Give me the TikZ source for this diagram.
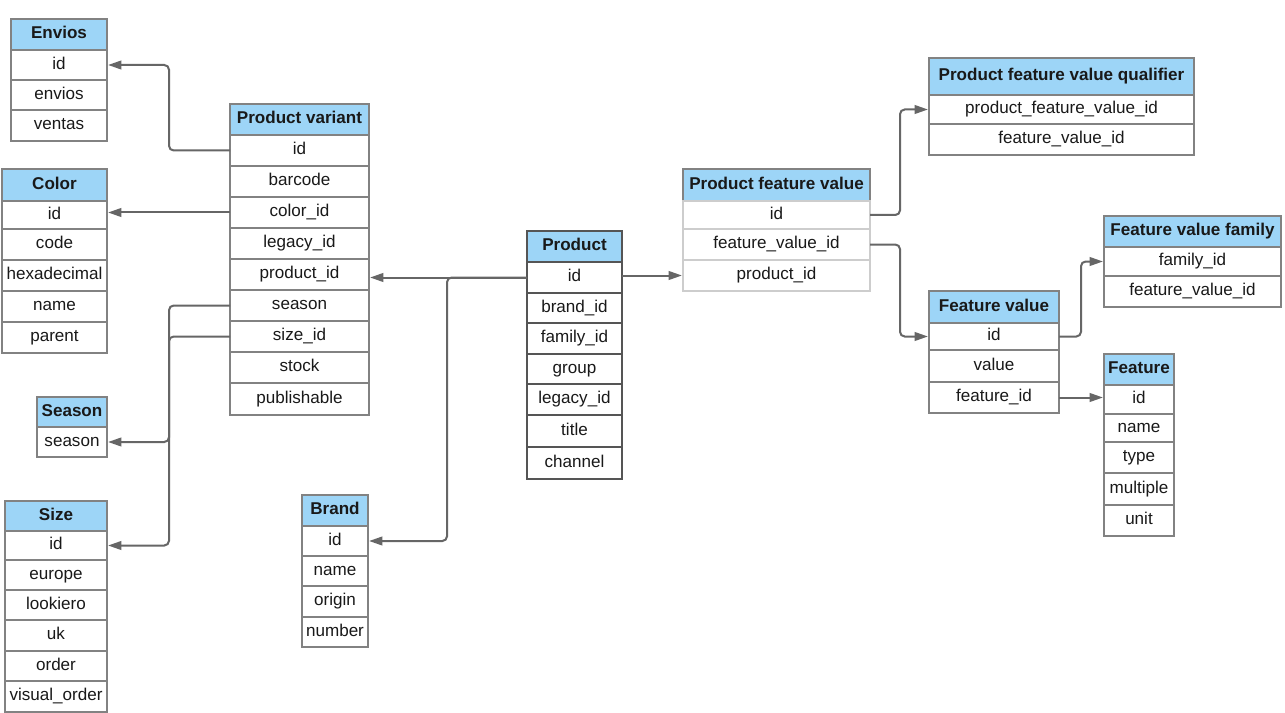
\documentclass[tikz,border=0pt]{standalone}
\usepackage{fontspec}
\setmainfont{Liberation Sans}
\usetikzlibrary{arrows.meta}
\definecolor{hdrblue}{RGB}{157,213,247}
\definecolor{bordergray}{RGB}{130,130,130}
\definecolor{lightgray}{RGB}{205,205,205}
\definecolor{conngray}{RGB}{102,102,102}
\definecolor{prdgray}{RGB}{85,85,85}
\definecolor{txt}{RGB}{25,25,25}
\newcommand\tcell[7]{\node[#2, minimum width={(#4-#3)*0.75pt}, minimum height={(#6-#5)*0.75pt}, anchor=north west] (#1) at (#3,#5) {#7};}
\begin{document}
\begin{tikzpicture}[x=0.75pt,y=-0.75pt,
  cellbase/.style={rectangle, inner sep=0pt, outer sep=0pt, text=txt, text height=9.2pt, text depth=2.6pt, font=\fontsize{12.8}{15}\selectfont},
  hdr/.style={cellbase, draw=bordergray, line width=0.8pt, fill=hdrblue, font=\fontsize{12.8}{15}\selectfont\bfseries},
  row/.style={cellbase, draw=bordergray, line width=0.8pt, fill=white},
  hdrthick/.style={hdr, draw=prdgray, line width=1.8pt},
  rowthick/.style={row, draw=prdgray, line width=1.8pt},
  rowlight/.style={row, draw=lightgray},
  conn/.style={draw=conngray, line width=1.5pt, rounded corners=3.5pt, -{Triangle[length=10pt,width=6.5pt]}, shorten >=0.8pt},
  link/.style={draw=conngray, line width=1.5pt, rounded corners=3.5pt}
]
\useasboundingbox (0,0) rectangle (1285,713);
\fill[white] (0,0) rectangle (1285,713);

% Envios
\tcell{env-h}{hdr}{11}{107}{19}{50}{Envios}
\tcell{env-1}{row}{11}{107}{50}{80}{id}
\tcell{env-2}{row}{11}{107}{80}{110}{envios}
\tcell{env-3}{row}{11}{107}{110}{141}{ventas}

% Color
\tcell{col-h}{hdr}{2}{107}{169}{201}{Color}
\tcell{col-1}{row}{2}{107}{201}{229}{id}
\tcell{col-2}{row}{2}{107}{229}{260}{code}
\tcell{col-3}{row}{2}{107}{260}{291}{hexadecimal}
\tcell{col-4}{row}{2}{107}{291}{322}{name}
\tcell{col-5}{row}{2}{107}{322}{353}{parent}

% Product variant
\tcell{pv-h}{hdr}{230}{369}{104}{135}{Product variant}
\tcell{pv-1}{row}{230}{369}{135}{166}{id}
\tcell{pv-2}{row}{230}{369}{166}{197}{barcode}
\tcell{pv-3}{row}{230}{369}{197}{228}{color\_id}
\tcell{pv-4}{row}{230}{369}{228}{259}{legacy\_id}
\tcell{pv-5}{row}{230}{369}{259}{290}{product\_id}
\tcell{pv-6}{row}{230}{369}{290}{321}{season}
\tcell{pv-7}{row}{230}{369}{321}{352}{size\_id}
\tcell{pv-8}{row}{230}{369}{352}{383}{stock}
\tcell{pv-9}{row}{230}{369}{383}{415}{publishable}

% Season
\tcell{sea-h}{hdr}{37}{107}{397}{427}{Season}
\tcell{sea-1}{row}{37}{107}{427}{457}{season}

% Size
\tcell{siz-h}{hdr}{5}{107}{501}{531}{Size}
\tcell{siz-1}{row}{5}{107}{531}{560}{id}
\tcell{siz-2}{row}{5}{107}{560}{590}{europe}
\tcell{siz-3}{row}{5}{107}{590}{620}{lookiero}
\tcell{siz-4}{row}{5}{107}{620}{651}{uk}
\tcell{siz-5}{row}{5}{107}{651}{681}{order}
\tcell{siz-6}{row}{5}{107}{681}{712}{visual\_order}

% Brand
\tcell{br-h}{hdr}{302}{368}{495}{526}{Brand}
\tcell{br-1}{row}{302}{368}{526}{556}{id}
\tcell{br-2}{row}{302}{368}{556}{586}{name}
\tcell{br-3}{row}{302}{368}{586}{617}{origin}
\tcell{br-4}{row}{302}{368}{617}{647}{number}

% Product
\tcell{prd-h}{hdrthick}{527}{622}{231}{262}{Product}
\tcell{prd-1}{rowthick}{527}{622}{262}{293}{id}
\tcell{prd-2}{rowthick}{527}{622}{293}{323}{brand\_id}
\tcell{prd-3}{rowthick}{527}{622}{323}{354}{family\_id}
\tcell{prd-4}{rowthick}{527}{622}{354}{384}{group}
\tcell{prd-5}{rowthick}{527}{622}{384}{415}{legacy\_id}
\tcell{prd-6}{rowthick}{527}{622}{415}{447}{title}
\tcell{prd-7}{rowthick}{527}{622}{447}{479}{channel}

% Product feature value
\tcell{pfv-h}{hdr}{683}{870}{169}{201}{Product feature value}
\tcell{pfv-1}{rowlight}{683}{870}{201}{229}{id}
\tcell{pfv-2}{rowlight}{683}{870}{229}{260}{feature\_value\_id}
\tcell{pfv-3}{rowlight}{683}{870}{260}{291}{product\_id}

% Product feature value qualifier
\tcell{pfvq-h}{hdr}{929}{1194}{58}{95}{Product feature value qualifier}
\tcell{pfvq-1}{row}{929}{1194}{95}{124}{product\_feature\_value\_id}
\tcell{pfvq-2}{row}{929}{1194}{124}{155}{feature\_value\_id}

% Feature value family
\tcell{fvf-h}{hdr}{1104}{1281}{216}{247}{Feature value family}
\tcell{fvf-1}{row}{1104}{1281}{247}{276}{family\_id}
\tcell{fvf-2}{row}{1104}{1281}{276}{307}{feature\_value\_id}

% Feature value
\tcell{fv-h}{hdr}{929}{1059}{291}{323}{Feature value}
\tcell{fv-1}{row}{929}{1059}{323}{350}{id}
\tcell{fv-2}{row}{929}{1059}{350}{382}{value}
\tcell{fv-3}{row}{929}{1059}{382}{413}{feature\_id}

% Feature
\tcell{fea-h}{hdr}{1104}{1174}{354}{385}{Feature}
\tcell{fea-1}{row}{1104}{1174}{385}{414}{id}
\tcell{fea-2}{row}{1104}{1174}{414}{442}{name}
\tcell{fea-3}{row}{1104}{1174}{442}{473}{type}
\tcell{fea-4}{row}{1104}{1174}{473}{505}{multiple}
\tcell{fea-5}{row}{1104}{1174}{505}{536}{unit}

% junction columns
\coordinate (jl) at (169,0);
\coordinate (jb) at (447,0);
\coordinate (jr) at (900,0);
\coordinate (jf) at (1081,0);

% connectors
\draw[conn] (pv-1.west) -- (jl |- pv-1.west) |- (env-1.east);
\draw[conn] (pv-3.west) -- (col-1.east |- pv-3.west);
\draw[conn] (pv-6.west) -- (jl |- pv-6.west) |- (sea-1.east);
\draw[conn] (pv-7.west) -- (jl |- pv-7.west) |- (siz-1.east);
\draw[conn] (prd-1.west) -- (pv-5.east |- prd-1.west);
\draw[conn] (prd-1.west) -- (jb |- prd-1.west) |- (br-1.east);
\draw[conn] (prd-1.east |- pfv-3.west) -- (pfv-3.west);
\draw[conn] (pfv-1.east) -- (jr |- pfv-1.east) |- (pfvq-1.west);
\draw[conn] (pfv-2.east) -- (jr |- pfv-2.east) |- (fv-1.west);
\draw[conn] (fv-1.east) -- (jf |- fv-1.east) |- (fvf-1.west);
\draw[conn] (fv-3.east) -- (fea-1.west |- fv-3.east);
\end{tikzpicture}
\end{document}
